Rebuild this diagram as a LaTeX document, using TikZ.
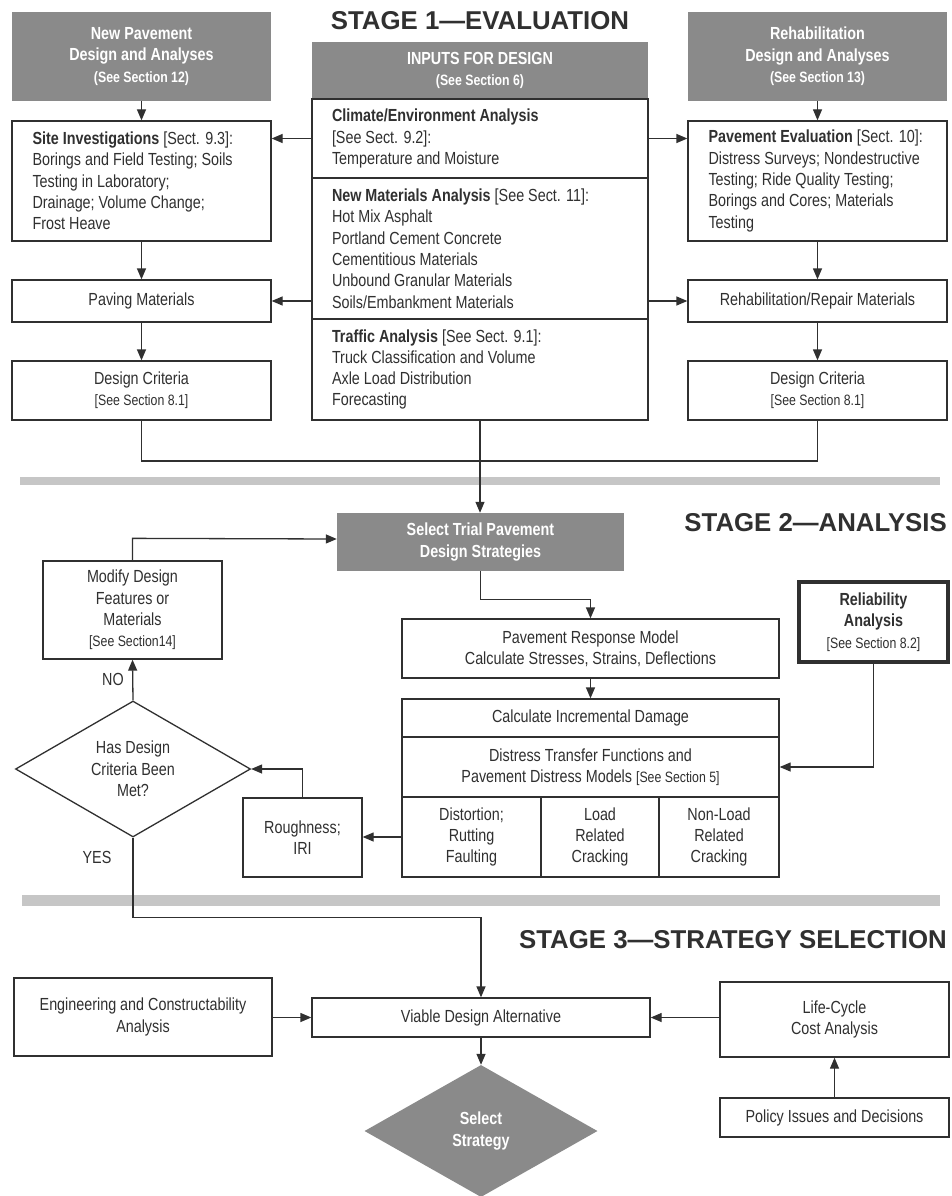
\documentclass[tikz,border=0pt]{standalone}
\usepackage{fontspec}
\setmainfont{Liberation Sans}[FakeStretch=0.82]
\newfontfamily\titlefont{Liberation Sans}
\usetikzlibrary{arrows.meta,shapes.geometric}
\definecolor{ink}{HTML}{303030}
\definecolor{boxgray}{HTML}{8A8A8A}
\definecolor{bandgray}{HTML}{C6C6C6}
\newcommand\bodyfont{\fontsize{17.5}{21.3}\selectfont}
\newcommand\smallfont{\fontsize{15}{19}\selectfont}
\newcommand\bx[7]{\node[#6, minimum width={#4-#2}, minimum height={#5-#3}] (#1) at ({(#2+#4)/2},{(#3+#5)/2}) {#7};}
\tikzset{
  every node/.style={font=\bodyfont, text=ink, inner sep=0pt},
  box/.style={draw=ink, line width=1.3pt, fill=white, rectangle, align=center},
  thickbox/.style={draw=ink, line width=3.6pt, fill=white, rectangle, align=center},
  lbox/.style={box, align=flush left, text width=#1},
  graybox/.style={rectangle, fill=boxgray, text=white, font=\bodyfont\bfseries, align=center},
  titlenode/.style={font=\titlefont\bfseries\fontsize{25.8}{30}\selectfont, text=ink},
  band/.style={rectangle, fill=bandgray},
  decision/.style={diamond, draw=ink, line width=1.3pt, fill=white, aspect=1.73, inner sep=1pt, align=center},
  arr/.style={draw=ink, line width=1.3pt, -{Triangle[length=11pt,width=9pt]}},
  conn/.style={draw=ink, line width=1.3pt}
}
\begin{document}
\begin{tikzpicture}[x=1pt,y=-1pt]
\fill[white] (0,0) rectangle (952,1196);
\useasboundingbox (0,0) rectangle (952,1196);

% ---------------- STAGE 1 ----------------
\node[titlenode] (t1) at (480,21) {STAGE 1—EVALUATION};
\bx{newpav}{12}{12}{271}{101}{graybox}{New Pavement\\Design and Analyses\\{\smallfont\bfseries (See Section 12)}}
\bx{inhead}{312}{42}{648}{99}{graybox}{INPUTS FOR DESIGN\\{\smallfont\bfseries (See Section 6)}}
\bx{rehab}{688}{12}{947}{101}{graybox}{Rehabilitation\\Design and Analyses\\{\smallfont\bfseries (See Section 13)}}

\bx{climate}{312}{99}{648}{178}{lbox=296}{\textbf{Climate/Environment Analysis}\\{}[See Sect. 9.2]:\\Temperature and Moisture}
\bx{materials}{312}{178}{648}{319}{lbox=296}{\textbf{New Materials Analysis} [See Sect. 11]:\\Hot Mix Asphalt\\Portland Cement Concrete\\Cementitious Materials\\Unbound Granular Materials\\Soils/Embankment Materials}
\bx{traffic}{312}{319}{648}{420}{lbox=296}{\textbf{Traffic Analysis} [See Sect. 9.1]:\\Truck Classification and Volume\\Axle Load Distribution\\Forecasting}

\bx{site}{12}{121}{271}{241}{lbox=218}{\mbox{\textbf{Site Investigations} [Sect. 9.3]:}\\\mbox{Borings and Field Testing; Soils}\\Testing in Laboratory;\\Drainage; Volume Change;\\Frost Heave}
\bx{paving}{12}{280}{271}{322}{box}{Paving Materials}
\bx{dcl}{12}{361}{271}{420}{box}{Design Criteria\\{\smallfont [See Section 8.1]}}

\bx{paveval}{688}{121}{947}{241}{lbox=218}{\mbox{\textbf{Pavement Evaluation} [Sect. 10]:}\\\mbox{Distress Surveys; Nondestructive}\\\mbox{Testing; Ride Quality Testing;}\\\mbox{Borings and Cores; Materials}\\Testing}
\bx{rehabmat}{688}{280}{947}{322}{box}{Rehabilitation/Repair Materials}
\bx{dcr}{688}{361}{947}{420}{box}{Design Criteria\\{\smallfont [See Section 8.1]}}

\draw[arr] (newpav) -- (site);
\draw[arr] (site) -- (paving);
\draw[arr] (paving) -- (dcl);
\draw[arr] (rehab) -- (paveval);
\draw[arr] (paveval) -- (rehabmat);
\draw[arr] (rehabmat) -- (dcr);
\draw[arr] (climate.west) -- (climate.west -| site.east);
\draw[arr] (materials.west |- paving.east) -- (paving.east);
\draw[arr] (climate.east) -- (climate.east -| paveval.west);
\draw[arr] (materials.east |- rehabmat.west) -- (rehabmat.west);

\node[band, minimum width=920, minimum height=8] (band1) at (480,481) {};

% ---------------- STAGE 2 ----------------
\node[titlenode, anchor=east] (t2) at (947,523) {STAGE 2—ANALYSIS};
\bx{select}{337}{513}{624}{571}{graybox}{Select Trial Pavement\\Design Strategies}

\coordinate (join) at (480,461);
\draw[conn] (dcl.south) |- (join);
\draw[conn] (dcr.south) |- (join);
\draw[arr] (traffic.south) -- (select.north -| traffic.south);

\bx{modify}{43}{561}{222}{659}{box}{Modify Design\\Features or\\Materials\\{\smallfont [See Section14]}}
\bx{response}{402}{619}{779}{678}{box}{Pavement Response Model\\Calculate Stresses, Strains, Deflections}
\bx{damage}{402}{699}{779}{737}{box}{Calculate Incremental Damage}
\bx{transfer}{402}{737}{779}{797}{box}{Distress Transfer Functions and\\Pavement Distress Models {\smallfont [See Section 5]}}
\bx{distort}{402}{797}{541}{877}{box}{Distortion;\\Rutting\\Faulting}
\bx{loadcr}{541}{797}{659}{877}{box}{Load\\Related\\Cracking}
\bx{nonload}{659}{797}{779}{877}{box}{Non-Load\\Related\\Cracking}
\bx{rel}{799}{582}{948}{662}{thickbox}{\textbf{Reliability}\\\textbf{Analysis}\\{\smallfont [See Section 8.2]}}
\bx{rough}{243}{798}{362}{877}{box}{Roughness;\\IRI}
\node[decision, minimum width=235, minimum height=136] (dia) at (133,769) {Has Design\\Criteria Been\\Met?};
\node (no) at (113,679) {NO};
\node (yes) at (97,857) {YES};

\draw[arr] (select.south) -- ++(0,28) -| (response.north);
\draw[arr] (response) -- (damage);
\draw[arr] (rel.south) |- (transfer.east);
\draw[arr] (distort.west) -- (distort.west -| rough.east);
\draw[arr] (rough.north) |- (dia.east);
\draw[arr] (dia.north) -- (modify.south);
\draw[arr] (modify.north) -- ++(0,-22) -- (select.west |- 0,539);

\node[band, minimum width=918, minimum height=11] (band2) at (481,900) {};

% ---------------- STAGE 3 ----------------
\node[titlenode, anchor=east] (t3) at (947,940) {STAGE 3—STRATEGY SELECTION};
\bx{eng}{14}{978}{272}{1056}{box}{Engineering and Constructability\\Analysis}
\bx{viable}{312}{998}{650}{1037}{box}{Viable Design Alternative}
\bx{life}{720}{982}{949}{1057}{box}{Life-Cycle\\Cost Analysis}
\bx{policy}{720}{1098}{949}{1137}{box}{Policy Issues and Decisions}
\node[diamond, fill=boxgray, aspect=1.75, inner sep=1pt, minimum width=233, minimum height=132, text=white, font=\bodyfont\bfseries, align=center] (strat) at (481,1131) {Select\\Strategy};

\draw[arr] (dia.south) -- ++(0,80) -| (viable.north);
\draw[arr] (eng.east |- viable.west) -- (viable.west);
\draw[arr] (life.west |- viable.east) -- (viable.east);
\draw[arr] (policy) -- (life);
\draw[arr] (viable) -- (strat);
\end{tikzpicture}
\end{document}
